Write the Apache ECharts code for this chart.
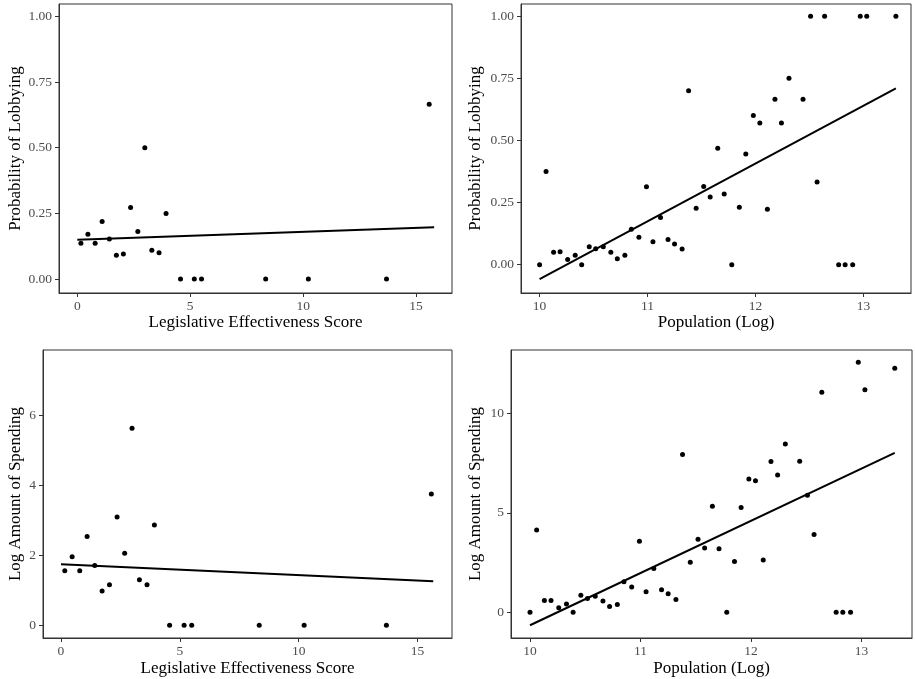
<!DOCTYPE html>
<html>
<head>
<meta charset="utf-8">
<script src="https://cdn.jsdelivr.net/npm/echarts@6/dist/echarts.min.js"></script>
<style>
  html, body { margin: 0; padding: 0; background: #fff; }
  #chart { width: 915px; height: 679px; }
</style>
</head>
<body>
<div id="chart"></div>
<script>
// legislative effectiveness score (left panels)
var lesX = [0.16, 0.47, 0.79, 1.10, 1.42, 1.73, 2.04, 2.36, 2.68, 2.99, 3.30, 3.62, 3.93, 4.57, 5.18, 5.50, 8.34, 10.23, 13.69, 15.58];
var lesLobby = [0.136, 0.171, 0.136, 0.219, 0.153, 0.091, 0.095, 0.272, 0.181, 0.5, 0.110, 0.100, 0.250, 0, 0, 0, 0, 0, 0, 0.665];
var lesSpend = [1.56, 1.96, 1.56, 2.54, 1.71, 0.98, 1.16, 3.10, 2.06, 5.64, 1.30, 1.16, 2.87, 0, 0, 0, 0, 0, 0, 3.76];

// population (log) (right panels)
var popX = [10.00, 10.06, 10.13, 10.19, 10.26, 10.33, 10.39, 10.46, 10.52, 10.59, 10.66, 10.72, 10.79, 10.85, 10.92,
  10.99, 11.05, 11.12, 11.19, 11.25, 11.32, 11.38, 11.45, 11.52, 11.58, 11.65, 11.71, 11.78, 11.85, 11.91,
  11.98, 12.04, 12.11, 12.18, 12.24, 12.31, 12.44, 12.51, 12.57, 12.64, 12.77, 12.83, 12.90, 12.97, 13.03, 13.30];
var popLobby = [0, 0.375, 0.05, 0.052, 0.021, 0.038, 0, 0.072, 0.064, 0.072, 0.05, 0.024, 0.038, 0.143, 0.11,
  0.314, 0.092, 0.19, 0.101, 0.083, 0.063, 0.7, 0.227, 0.315, 0.272, 0.469, 0.284, 0, 0.231, 0.445,
  0.6, 0.57, 0.223, 0.666, 0.57, 0.75, 0.666, 1, 0.333, 1, 0, 0, 0, 1, 1, 1];
var popSpend = [0, 4.14, 0.6, 0.6, 0.23, 0.42, 0, 0.86, 0.69, 0.81, 0.57, 0.29, 0.4, 1.54, 1.28,
  3.57, 1.04, 2.2, 1.14, 0.94, 0.65, 7.94, 2.52, 3.67, 3.24, 5.34, 3.2, 0, 2.55, 5.27,
  6.71, 6.61, 2.63, 7.58, 6.9, 8.47, 7.6, 5.89, 3.91, 11.07, 0, 0, 0, 12.58, 11.19, 12.27];

// fitted lines (endpoints)
var fitLesLobby = [[0, 0.150], [15.8, 0.197]];
var fitPopLobby = [[10.0, -0.058], [13.3, 0.709]];
var fitLesSpend = [[0, 1.748], [15.66, 1.261]];
var fitPopSpend = [[10.0, -0.65], [13.3, 8.02]];

// tick labels
var lesTicks = [0, 5, 10, 15];
var popTicks = [10, 11, 12, 13];
var probTicks = [0, 0.25, 0.5, 0.75, 1];
var spendLesTicks = [0, 2, 4, 6];
var spendPopTicks = [0, 5, 10];

var font = 'Liberation Serif';

function pair(xs, ys) {
  return xs.map(function (x, i) { return [x, ys[i]]; });
}

function xAxis(idx, min, max, ticks, name, gap) {
  return {
    type: 'value', gridIndex: idx, min: min, max: max,
    name: name, nameLocation: 'middle', nameGap: gap,
    nameTextStyle: { fontFamily: font, fontSize: 17, color: '#000' },
    splitLine: { show: false },
    axisLine: { show: true, onZero: false, lineStyle: { color: '#333', width: 1 } },
    axisTick: { show: true, length: 4, customValues: ticks, lineStyle: { color: '#333' } },
    axisLabel: { customValues: ticks, margin: 6, fontFamily: font, fontSize: 13.5, color: '#4d4d4d' }
  };
}

function yAxis(idx, min, max, ticks, name, gap, fmt) {
  return {
    type: 'value', gridIndex: idx, min: min, max: max,
    name: name, nameLocation: 'middle', nameGap: gap,
    nameTextStyle: { fontFamily: font, fontSize: 17, color: '#000' },
    splitLine: { show: false },
    axisLine: { show: true, onZero: false, lineStyle: { color: '#333', width: 1 } },
    axisTick: { show: true, length: 4, customValues: ticks, lineStyle: { color: '#333' } },
    axisLabel: {
      customValues: ticks, margin: 7, fontFamily: font, fontSize: 13.5, color: '#4d4d4d',
      formatter: fmt
    }
  };
}

function dots(idx, data) {
  return {
    type: 'scatter', xAxisIndex: idx, yAxisIndex: idx, data: data,
    symbolSize: 5, itemStyle: { color: '#000', opacity: 1 }, silent: true
  };
}

function fit(idx, data) {
  return {
    type: 'line', xAxisIndex: idx, yAxisIndex: idx, data: data,
    symbol: 'none', lineStyle: { color: '#000', width: 2 }, silent: true
  };
}

var two = function (v) { return v.toFixed(2); };
var plain = function (v) { return String(v); };

var gridStyle = { show: true, borderColor: '#333', borderWidth: 1, backgroundColor: '#fff' };

var chart = echarts.init(document.getElementById('chart'));
chart.setOption({
  animation: false,
  grid: [
    Object.assign({ left: 59, top: 4, width: 393, height: 289 }, gridStyle),
    Object.assign({ left: 521, top: 4, width: 390, height: 289 }, gridStyle),
    Object.assign({ left: 43, top: 350, width: 409, height: 288 }, gridStyle),
    Object.assign({ left: 511, top: 350, width: 401, height: 288 }, gridStyle)
  ],
  xAxis: [
    xAxis(0, -0.81, 16.59, lesTicks, 'Legislative Effectiveness Score', 21),
    xAxis(1, 9.828, 13.44, popTicks, 'Population (Log)', 21),
    xAxis(2, -0.756, 16.45, lesTicks, 'Legislative Effectiveness Score', 22),
    xAxis(3, 9.828, 13.456, popTicks, 'Population (Log)', 22)
  ],
  yAxis: [
    yAxis(0, -0.053, 1.047, probTicks, 'Probability of Lobbying', 35, two),
    yAxis(1, -0.114, 1.049, probTicks, 'Probability of Lobbying', 37, two),
    yAxis(2, -0.364, 7.88, spendLesTicks, 'Log Amount of Spending', 19, plain),
    yAxis(3, -1.29, 13.19, spendPopTicks, 'Log Amount of Spending', 27, plain)
  ],
  series: [
    dots(0, pair(lesX, lesLobby)), fit(0, fitLesLobby),
    dots(1, pair(popX, popLobby)), fit(1, fitPopLobby),
    dots(2, pair(lesX, lesSpend)), fit(2, fitLesSpend),
    dots(3, pair(popX, popSpend)), fit(3, fitPopSpend)
  ]
});
</script>
</body>
</html>
